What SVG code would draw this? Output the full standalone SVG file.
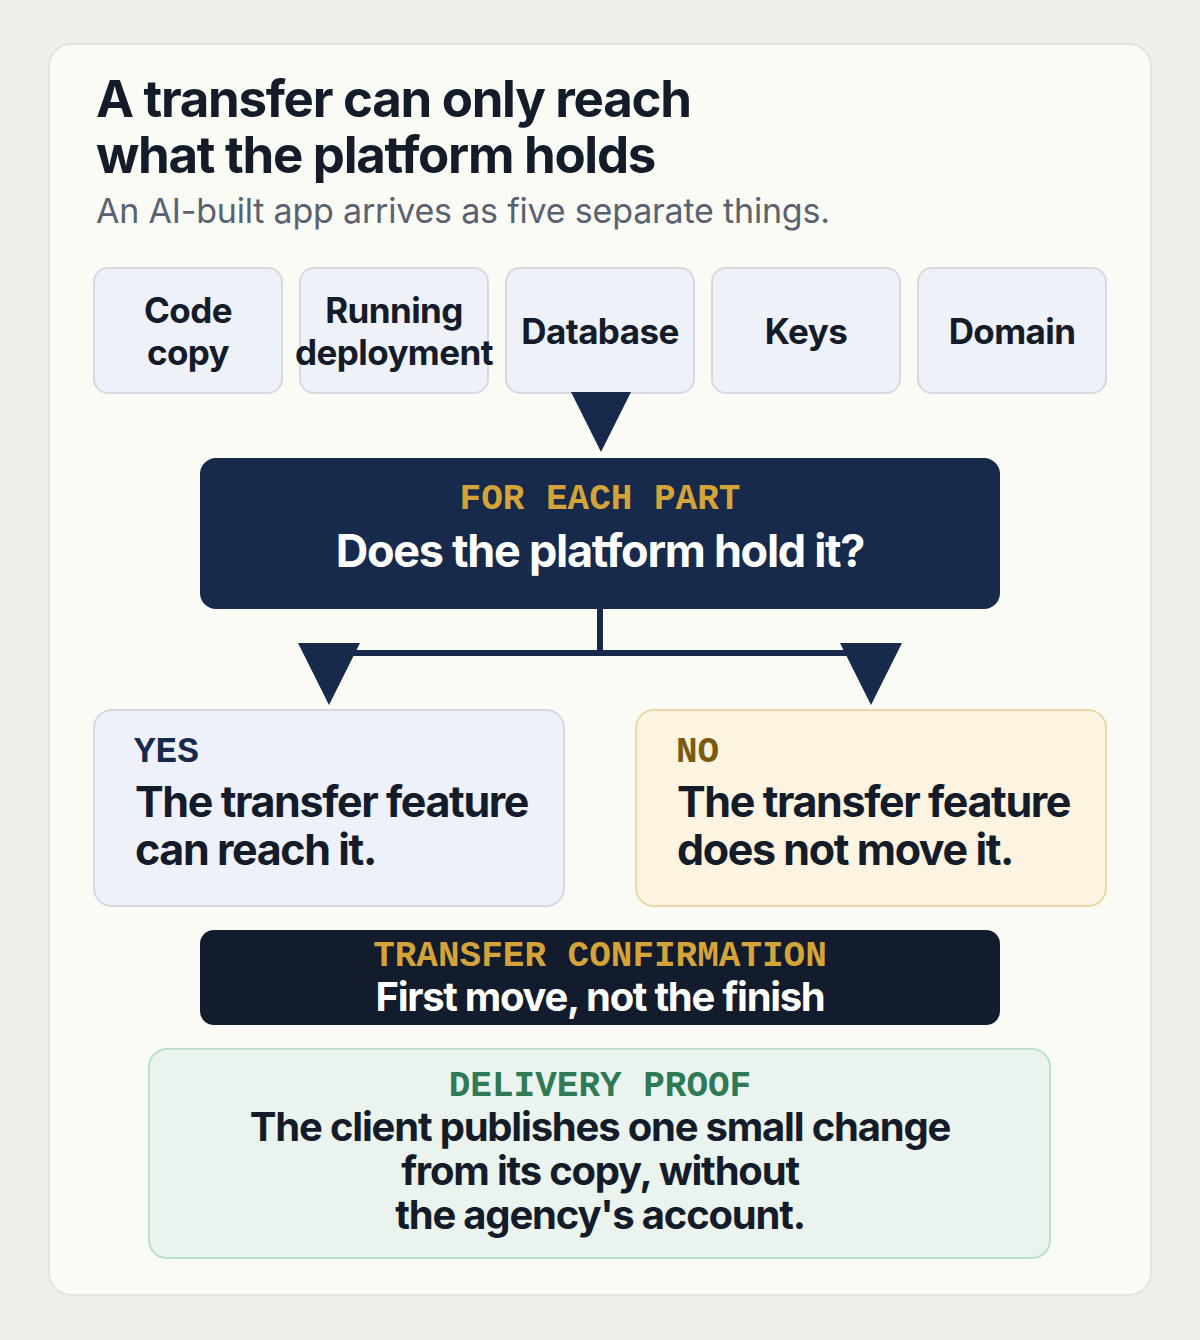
<svg xmlns="http://www.w3.org/2000/svg" width="1200" height="1340" viewBox="0 0 1200 1340">
<defs>
<style>
.sans{font-family:Inter,"Liberation Sans",sans-serif;}
.mono{font-family:"Liberation Mono","DejaVu Sans Mono",monospace;font-weight:700;}
.title{font-size:51px;font-weight:700;fill:#141b29;letter-spacing:-1.3px;}
.sub{font-size:34px;font-weight:400;fill:#5a6170;letter-spacing:-0.2px;}
.part{fill:#eef1f8;stroke:#d6d9e1;stroke-width:2;}
.partt{font-size:35px;font-weight:700;fill:#141b29;letter-spacing:-0.6px;text-anchor:middle;}
.big{font-size:43px;font-weight:700;fill:#141b29;letter-spacing:-1.4px;}
.lab{font-size:36px;}
.conn{stroke:#172a4b;stroke-width:6;fill:none;}
.head{fill:#172a4b;}
.body{font-size:40px;font-weight:700;fill:#141b29;letter-spacing:-1.2px;text-anchor:middle;}
</style>
</defs>
<rect width="1200" height="1340" fill="#f0efe9"/>
<rect x="49" y="44" width="1102" height="1251" rx="22" fill="#fbfbf5" stroke="#e4e3dc" stroke-width="2"/>
<g id="title">
<text class="sans title" x="96" y="117">A transfer can only reach</text>
<text class="sans title" x="96" y="173">what the platform holds</text>
<text class="sans sub" x="96" y="223">An AI-built app arrives as five separate things.</text>
</g>
<g id="part-code">
<rect class="part" x="94" y="268" width="188" height="125" rx="14"/>
<text class="sans partt" x="188" y="323">Code</text>
<text class="sans partt" x="188" y="365">copy</text>
</g>
<g id="part-deploy">
<rect class="part" x="300" y="268" width="188" height="125" rx="14"/>
<text class="sans partt" x="394" y="323">Running</text>
<text class="sans partt" x="394" y="365">deployment</text>
</g>
<g id="part-db">
<rect class="part" x="506" y="268" width="188" height="125" rx="14"/>
<text class="sans partt" x="600" y="344">Database</text>
</g>
<g id="part-keys">
<rect class="part" x="712" y="268" width="188" height="125" rx="14"/>
<text class="sans partt" x="806" y="344">Keys</text>
</g>
<g id="part-domain">
<rect class="part" x="918" y="268" width="188" height="125" rx="14"/>
<text class="sans partt" x="1012" y="344">Domain</text>
</g>
<g id="connectors">
<polygon class="head" points="571,392 631,392 601,452"/>
<path class="conn" d="M600 609 V653 M352 653 H848"/>
<polygon class="head" points="298,643 360,643 329,705"/>
<polygon class="head" points="840,643 902,643 871,705"/>
</g>
<g id="decision">
<rect x="200" y="458" width="800" height="151" rx="16" fill="#172a4b"/>
<text class="mono lab" x="600" y="509" fill="#d4a43a" text-anchor="middle">FOR EACH PART</text>
<text class="sans" x="600" y="567" font-size="45" font-weight="700" fill="#ffffff" letter-spacing="-1.3" text-anchor="middle">Does the platform hold it?</text>
</g>
<g id="yes">
<rect x="94" y="710" width="470" height="196" rx="18" fill="#eef1f9" stroke="#d6d9e2" stroke-width="2"/>
<text class="mono lab" x="134" y="762" fill="#172a4b">YES</text>
<text class="sans big" x="135" y="817">The transfer feature</text>
<text class="sans big" x="135" y="865">can reach it.</text>
</g>
<g id="no">
<rect x="636" y="710" width="470" height="196" rx="18" fill="#fcf3e1" stroke="#ead9a8" stroke-width="2"/>
<text class="mono lab" x="676" y="762" fill="#7a5c10">NO</text>
<text class="sans big" x="677" y="817">The transfer feature</text>
<text class="sans big" x="677" y="865">does not move it.</text>
</g>
<g id="confirmation">
<rect x="200" y="930" width="800" height="95" rx="14" fill="#121c2c"/>
<text class="mono lab" x="600" y="966" fill="#d4a43a" text-anchor="middle">TRANSFER CONFIRMATION</text>
<text class="sans" x="600" y="1011" font-size="40" font-weight="700" fill="#ffffff" letter-spacing="-1.3" text-anchor="middle">First move, not the finish</text>
</g>
<g id="proof">
<rect x="149" y="1049" width="901" height="209" rx="18" fill="#eaf3ee" stroke="#bddfcc" stroke-width="2"/>
<text class="mono lab" x="600" y="1096" fill="#2f7a55" text-anchor="middle">DELIVERY PROOF</text>
<text class="sans body" x="600" y="1141">The client publishes one small change</text>
<text class="sans body" x="600" y="1185">from its copy, without</text>
<text class="sans body" x="600" y="1229">the agency's account.</text>
</g>
</svg>
